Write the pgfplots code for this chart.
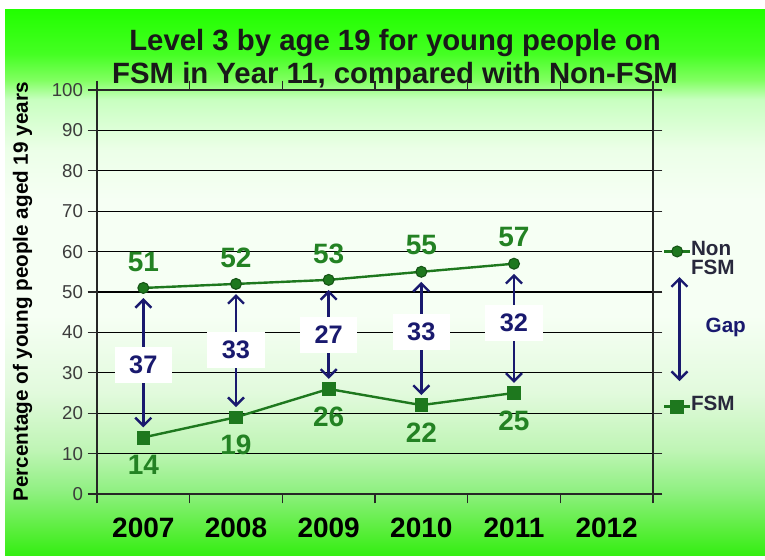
\documentclass[border=0pt]{standalone}
\usepackage{pgfplots}
\pgfplotsset{compat=1.18}
\usepackage{fontspec}
\setmainfont{Liberation Sans}
\usetikzlibrary{arrows.meta}
\definecolor{dgreen}{RGB}{30,120,30}
\definecolor{lblgreen}{RGB}{35,130,35}
\definecolor{navy}{RGB}{25,25,110}
\definecolor{ticky}{RGB}{60,60,60}
\definecolor{legtext}{RGB}{40,40,60}
\definecolor{bgA}{HTML}{33EE11}
\definecolor{bgB}{HTML}{5AEE3C}
\definecolor{bgC}{HTML}{90F082}
\definecolor{bgD}{HTML}{BFF5B5}
\definecolor{bgE}{HTML}{E2FADD}
\definecolor{bgF}{HTML}{F6FFF4}
\definecolor{bgG}{HTML}{ECFFE8}
\definecolor{bgH}{HTML}{C8FFC0}
\definecolor{bgI}{HTML}{80FF60}
\definecolor{bgJ}{HTML}{44FF22}
\definecolor{bgK}{HTML}{22FF00}
\pgfdeclareverticalshading{bgshade}{100bp}{color(0bp)=(bgA); color(25bp)=(bgA); color(27.4bp)=(bgB); color(31bp)=(bgC); color(34.7bp)=(bgD); color(40bp)=(bgE); color(47bp)=(bgF); color(57.6bp)=(bgF); color(62.2bp)=(bgG); color(66.8bp)=(bgH); color(68.6bp)=(bgI); color(71bp)=(bgJ); color(75bp)=(bgK); color(100bp)=(bgK)}
\begin{document}
\begin{tikzpicture}[x=1pt,y=1pt]
\fill[white] (0,0) rectangle (573.75,420);
\shade[shading=bgshade] (3.75,3) rectangle (573.75,412.5);
\node[font=\bfseries\fontsize{22}{24.75}\selectfont, align=center, text=black!90] at (296.25,375.5) {Level 3 by age 19 for young people on\\FSM in Year 11, compared with Non-FSM};
\begin{axis}[
  at={(72.75pt,49.5pt)}, anchor=south west,
  scale only axis, width=417pt, height=303pt,
  xmin=-0.5, xmax=5.5, ymin=0, ymax=100,
  xtick={0,1,2,3,4,5}, xticklabels={2007,2008,2009,2010,2011,2012},
  minor xtick={-0.5,0.5,1.5,2.5,3.5,4.5,5.5},
  major x tick style={draw=none},
  ytick={0,10,...,100},
  ymajorgrids, grid style={black, line width=1pt}, major grid style={black, line width=1pt},
  axis line style={black!85, line width=0.9pt},
  tick align=outside, major tick length=7pt, minor tick length=7pt,
  tick style={black!85, line width=0.9pt},
  /pgf/number format/assume math mode=true,
  xticklabel style={font=\bfseries\fontsize{21}{24}\selectfont, text=black, yshift=-7.5pt},
  yticklabel style={font=\fontsize{14}{16}\selectfont, text=ticky},
  ylabel={Percentage of young people aged 19 years},
  every axis y label/.style={at={(axis description cs:-0.134,0.5)}, rotate=90, anchor=center, font=\bfseries\fontsize{15.5}{17}\selectfont},
  clip=false,
  legend style={at={(axis description cs:1.018,0.625)}, anchor=north west, draw=none, fill=none, inner sep=0pt, row sep=0pt,
    font=\bfseries\fontsize{15.5}{17}\selectfont, text=legtext,
    nodes={inner sep=0pt, text height=10pt, text depth=4.55pt}},
  legend cell align=left,
  legend image code/.code={\draw[mark repeat=2,mark phase=2,#1] plot coordinates {(0pt,0pt) (9.5pt,0pt) (19pt,0pt)};},
]
\addplot[dgreen, line width=1.8pt, mark=*, mark size=4.1pt,
  mark options={fill=dgreen, draw=dgreen!70!black, line width=0.8pt},
  nodes near coords,
  every node near coord/.append style={font=\bfseries\fontsize{21}{24}\selectfont, text=lblgreen, anchor=south, inner sep=0pt, yshift=12pt}]
  coordinates {(0,51) (1,52) (2,53) (3,55) (4,57)};
\addlegendentry{Non}
\addlegendimage{empty legend}\addlegendentry{FSM}
\addlegendimage{empty legend}\addlegendentry{}
\addlegendimage{empty legend}\addlegendentry{}
\addlegendimage{legend image code/.code={\draw[overlay, navy, line width=1.8pt, {Straight Barb[length=6pt,width=12pt]}-{Straight Barb[length=6pt,width=12pt]}] (11.25pt,-39pt) -- (11.25pt,39pt);}}
\addlegendentry{\hspace{11pt}\textcolor{navy}{Gap}}
\addlegendimage{empty legend}\addlegendentry{}
\addlegendimage{empty legend}\addlegendentry{}
\addlegendimage{empty legend}\addlegendentry{}
\addplot[dgreen, line width=1.8pt, mark=square*, mark size=4.8pt,
  mark options={fill=dgreen, draw=dgreen, line width=0.5pt},
  nodes near coords,
  every node near coord/.append style={font=\bfseries\fontsize{21}{24}\selectfont, text=lblgreen, anchor=north, inner sep=0pt, yshift=-13pt}]
  coordinates {(0,14) (1,19) (2,26) (3,22) (4,25)};
\addlegendentry{FSM}
\addplot[forget plot, navy, line width=1.8pt, mark=none,
  {Straight Barb[length=6pt,width=12pt]}-{Straight Barb[length=6pt,width=12pt]},
  quiver={u=0, v=\thisrow{v}}]
  table {
x y v
0 16.5 32
1 21.5 28
2 28.5 22
3 24.5 28
4 27.5 27
};
\addplot[forget plot, draw=none, mark=none, nodes near coords, point meta=explicit symbolic,
  every node near coord/.append style={anchor=center, fill=white, text=navy, font=\bfseries\fontsize{19}{22}\selectfont, minimum width=43pt, minimum height=27pt, inner sep=0pt}]
  coordinates {(0,32)[37] (1,35.6)[33] (2,39.4)[27] (3,40.1)[33] (4,42.3)[32]};
\end{axis}
\pgfresetboundingbox
\path (0,0) rectangle (573.75,420);
\end{tikzpicture}
\end{document}
